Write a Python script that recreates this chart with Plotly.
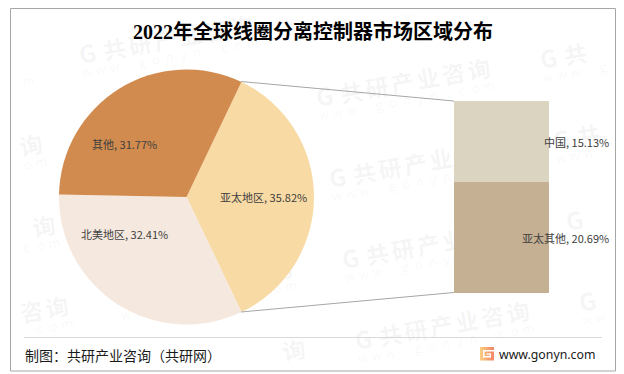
import plotly.graph_objects as go

# Data
pie_labels = ["亚太地区", "北美地区", "其他"]
pie_values = [35.82, 32.41, 31.77]
pie_colors = ["#F8DAA4", "#F5E8DE", "#D28B4E"]
bar_labels = ["亚太其他", "中国"]
bar_values = [20.69, 15.13]
bar_colors = ["#C6B094", "#DBD4C1"]
title_text = "2022年全球线圈分离控制器市场区域分布"
source_text = "制图：共研产业咨询（共研网）"
site_text = "www.gonyn.com"
wm_main = "共研产业咨询"
wm_sub = "www.gonyn.com"

W, H = 624, 374
px = lambda v: v / W
py = lambda v: 1 - v / H

fig = go.Figure()
fig.add_trace(go.Pie(
    labels=pie_labels, values=pie_values, sort=False, direction="clockwise",
    rotation=25.5, textinfo="none", hoverinfo="label+percent",
    marker=dict(colors=pie_colors, line=dict(width=0)),
    domain=dict(x=[px(59), px(314)], y=[py(324.5), py(69.5)]),
    showlegend=False,
))
for name, val, col in zip(bar_labels, bar_values, bar_colors):
    fig.add_trace(go.Bar(x=[0], y=[val], name=name, width=1, marker=dict(color=col, line=dict(width=0)),
                         showlegend=False, xaxis="x", yaxis="y"))

annos = []
shapes = []

# Faint watermark lattice behind the marks, character by character, kept inside the frame
WM_MAIN = "rgba(110,110,110,0.07)"
WM_SUB = "rgba(110,110,110,0.06)"
def inside(x, y, m):
    return 12 + m < x < 614 - m and 10 + m < y < 369 - m
def wm(ch, x, y, size, color, bold=False):
    shapes.append(dict(type="rect", xref="paper", yref="paper", layer="below",
                       x0=px(x - 0.5), x1=px(x + 0.5), y0=py(y + 0.5), y1=py(y - 0.5),
                       line=dict(width=0), fillcolor="rgba(0,0,0,0)",
                       label=dict(text=f"<b>{ch}</b>" if bold else ch, textangle=-10,
                                  textposition="middle center", xanchor="center", yanchor="middle",
                                  padding=0,
                                  font=dict(family="Noto Sans CJK SC", size=size, color=color))))
for i in range(-2, 3):
    for j in range(-2, 5):
        ox = 352 + i * 224 + j * 13
        oy = 95 - i * 38 + j * 81
        if inside(ox - 27, oy + 4, 12):
            wm("G", ox - 27, oy + 4, 24, WM_MAIN, True)
        for k, ch in enumerate(wm_main):
            cx, cy = ox + k * 25.5, oy - k * 4.6
            if inside(cx, cy, 13):
                wm(ch, cx, cy, 23, WM_MAIN, True)
        for k, ch in enumerate(wm_sub):
            cx, cy = ox - 28 + k * 13.8, oy + 21 - k * 2.4
            if inside(cx, cy, 8):
                wm(ch, cx, cy, 13, WM_SUB)

LAB = dict(family="Noto Sans CJK SC", size=11, color="#404040")
def lab(text, x, y, anchor="center"):
    annos.append(dict(text=text, x=px(x), y=py(y), xref="paper", yref="paper", showarrow=False,
                      xanchor=anchor, yanchor="middle", font=LAB))
lab(f"{pie_labels[0]}, {pie_values[0]:.2f}%", 263.5, 197)
lab(f"{pie_labels[1]}, {pie_values[1]:.2f}%", 124.5, 234)
lab(f"{pie_labels[2]}, {pie_values[2]:.2f}%", 124.5, 144)
lab(f"{bar_labels[1]}, {bar_values[1]:.2f}%", 611, 142, "right")
lab(f"{bar_labels[0]}, {bar_values[0]:.2f}%", 611, 238, "right")

annos.append(dict(text=f"<b>{title_text}</b>", x=px(312.5), y=py(31), xref="paper", yref="paper", showarrow=False,
                  xanchor="center", yanchor="middle",
                  font=dict(family="Liberation Serif, Noto Sans CJK SC", size=20, color="#000000")))
annos.append(dict(text=source_text, x=px(23), y=py(355), xref="paper", yref="paper", showarrow=False,
                  xanchor="left", yanchor="middle",
                  font=dict(family="Noto Sans CJK SC", size=14, color="#1a1a1a")))
annos.append(dict(text=site_text, x=px(497), y=py(354), xref="paper", yref="paper", showarrow=False,
                  xanchor="left", yanchor="middle",
                  font=dict(family="Noto Sans", size=12.3, color="#1a1a1a")))

def pline(x0, y0, x1, y1, color, w=1):
    return dict(type="line", xref="paper", yref="paper", x0=px(x0), y0=py(y0), x1=px(x1), y1=py(y1),
                line=dict(color=color, width=w))
def prect(x0, y0, x1, y1, fill):
    return dict(type="rect", xref="paper", yref="paper", x0=px(x0), y0=py(y0), x1=px(x1), y1=py(y1),
                fillcolor=fill, line=dict(width=0))
shapes += [
    dict(type="rect", xref="paper", yref="paper", x0=px(10.5), y0=py(8.5), x1=px(615.5), y1=py(371),
         line=dict(color="#A6A6A6", width=1), fillcolor="rgba(0,0,0,0)", layer="below"),
    pline(24, 337.5, 602, 337.5, "#D9D9D9"),
    pline(241, 81.5, 454, 101, "#A6A6A6"),
    pline(241, 312, 454, 292.5, "#A6A6A6"),
]
# Small gradient logo
logo_cols = ["#FBCB80", "#FAC07A", "#F9B475", "#F8A870", "#F79C6C", "#F69069", "#F58A6A"]
for n, c in enumerate(logo_cols):
    shapes.append(prect(480 + n * 2, 347, 482 + n * 2, 360.5, c))
shapes += [
    prect(483, 350, 494, 351.5, "#FFFFFF"),
    prect(483, 350, 484.5, 357.5, "#FFFFFF"),
    prect(483, 356, 491, 357.5, "#FFFFFF"),
    prect(489.5, 353.5, 491, 357.5, "#FFFFFF"),
    prect(486.5, 353.5, 491, 354.8, "#FFFFFF"),
]

fig.update_layout(
    width=W, height=H, margin=dict(l=0, r=0, t=0, b=0), autosize=False,
    paper_bgcolor="#FFFFFF", plot_bgcolor="rgba(0,0,0,0)", barmode="stack", bargap=0,
    xaxis=dict(domain=[px(454), px(549)], range=[-0.5, 0.5], visible=False, fixedrange=True),
    yaxis=dict(domain=[py(293), py(101)], range=[0, sum(bar_values)], visible=False, fixedrange=True),
    annotations=annos, shapes=shapes,
)
fig.write_html("out.html", config=dict(displayModeBar=False),
               post_script="document.body.style.margin='0';document.body.style.overflow='hidden';")
